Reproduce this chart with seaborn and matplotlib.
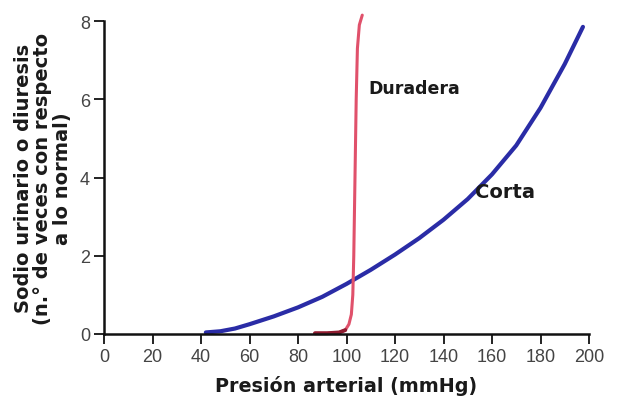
import matplotlib
matplotlib.use("Agg")
import matplotlib.pyplot as plt
import pandas as pd
import seaborn as sns

# curve "Corta" (presion aguda)
corta_x = [42, 48, 54, 60, 70, 80, 90, 100, 110, 120, 130, 140, 150, 160, 170, 180, 190, 197.5]
corta_y = [0.04, 0.07, 0.14, 0.25, 0.45, 0.68, 0.95, 1.28, 1.64, 2.03, 2.45, 2.92, 3.45, 4.08, 4.82, 5.78, 6.9, 7.85]

# curve "Duradera" (presion cronica)
duradera_x = [87, 92, 97, 99.5, 101, 102, 102.6, 103, 103.5, 104, 104.5, 105.3, 106.5]
duradera_y = [0.02, 0.02, 0.04, 0.1, 0.25, 0.5, 1.0, 2.0, 4.0, 6.0, 7.3, 7.9, 8.15]

# tramo inicial oscuro de la curva duradera
base_x = [87, 92, 97, 99.5]
base_y = [0.02, 0.02, 0.04, 0.1]

x_ticks = [0, 20, 40, 60, 80, 100, 120, 140, 160, 180, 200]
y_ticks = [0, 2, 4, 6, 8]

sns.set_style("ticks")
plt.rcParams['font.family'] = ['Liberation Sans', 'DejaVu Sans']
bold_font = ['DejaVu Sans']

fig = plt.figure(figsize=(6.19, 4.02), dpi=100)
ax = fig.add_axes([104 / 619, 67 / 402, 485 / 619, 313 / 402])

corta = pd.DataFrame({'x': corta_x, 'y': corta_y})
duradera = pd.DataFrame({'x': duradera_x, 'y': duradera_y})
base = pd.DataFrame({'x': base_x, 'y': base_y})

sns.lineplot(data=corta, x='x', y='y', sort=False, color='#2a2ca6', linewidth=3.0, ax=ax, clip_on=False)
sns.lineplot(data=duradera, x='x', y='y', sort=False, color='#e0516b', linewidth=2.2, ax=ax, clip_on=False)
sns.lineplot(data=base, x='x', y='y', sort=False, color='#8e1c30', linewidth=2.8, ax=ax, clip_on=False)

ax.text(109, 6.3, 'Duradera', fontsize=12.5, fontweight='bold', family=bold_font,
        color='#1a1a1a', va='center')
ax.text(153, 3.65, 'Corta', fontsize=14, fontweight='bold', family=bold_font,
        color='#1a1a1a', va='center')

ax.set_xlim(0, 200)
ax.set_ylim(0, 8)
ax.set_xticks(x_ticks)
ax.set_yticks(y_ticks)
ax.tick_params(axis='both', direction='out', length=7, width=1.4, color='#222222',
               labelsize=13, labelcolor='#444444', pad=3)
for s in ['top', 'right']:
    ax.spines[s].set_visible(False)
for s in ['left', 'bottom']:
    ax.spines[s].set_linewidth(1.8)
    ax.spines[s].set_color('#111111')

ax.set_xlabel('Presión arterial (mmHg)', fontsize=13.8, fontweight='bold', family=bold_font,
              color='#1a1a1a', labelpad=7)
ax.set_ylabel('Sodio urinario o diuresis\n(n.° de veces con respecto\na lo normal)',
              fontsize=14, fontweight='bold', family=bold_font, color='#1a1a1a',
              labelpad=6, linespacing=1.02)

fig.savefig('out.png', dpi=100, facecolor='white')
